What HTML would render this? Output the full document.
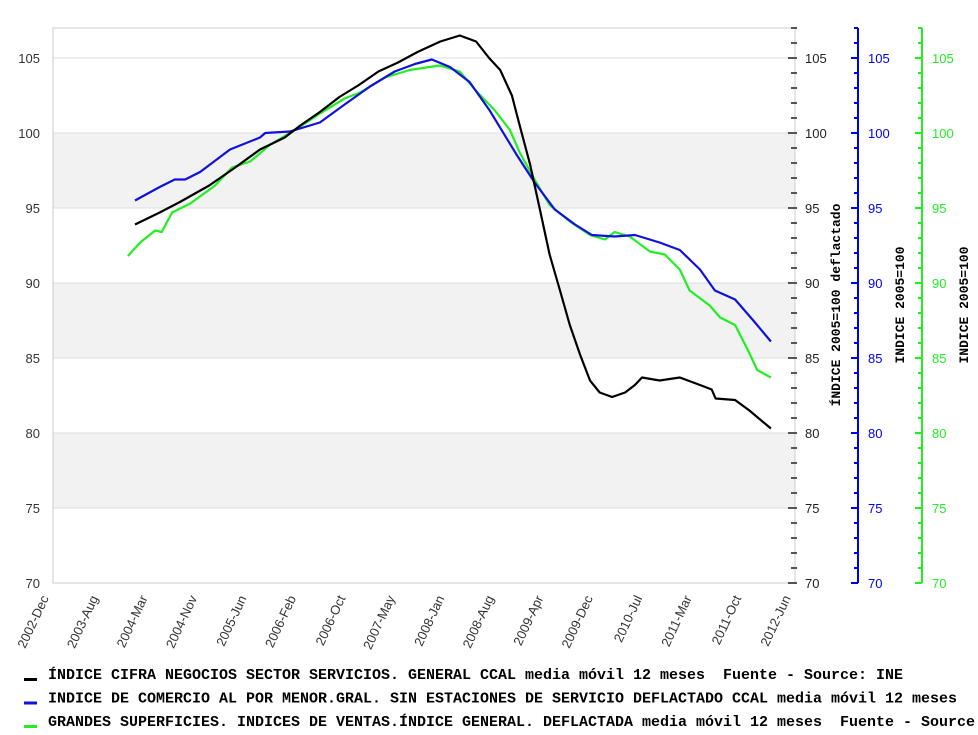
<!DOCTYPE html>
<html><head><meta charset="utf-8"><style>
body{margin:0;background:#fff;}
svg{display:block;font-family:"Liberation Sans",sans-serif;}
.leg{white-space:pre;}
</style></head><body>
<svg id="chart" width="978" height="735" xmlns="http://www.w3.org/2000/svg"></svg>
<script>
const xLabels=["2002-Dec","2003-Aug","2004-Mar","2004-Nov","2005-Jun","2006-Feb","2006-Oct","2007-May","2008-Jan","2008-Aug","2009-Apr","2009-Dec","2010-Jul","2011-Mar","2011-Oct","2012-Jun"];
const yTicks=[70,75,80,85,90,95,100,105];
const blackMonths=[12.6,16.4,19.5,24,28,31.8,35.6,38,41,44,47,50,53,56,59.5,62.5,65,67,68.7,70.5,71.7,73.3,74.8,76.3,77.9,79.4,81,82.5,84,85.9,87.9,89.4,90.5,93.2,96.3,99.4,101.2,101.8,104.8,107,110.3];
const blackValues=[93.9,94.7,95.4,96.5,97.7,98.9,99.7,100.5,101.4,102.4,103.2,104.1,104.7,105.4,106.1,106.5,106.1,105,104.2,102.5,100.5,97.9,94.9,91.9,89.5,87.2,85.2,83.5,82.7,82.4,82.7,83.2,83.7,83.5,83.7,83.2,82.9,82.3,82.2,81.5,80.3];
const blueMonths=[12.6,16.4,18.7,20.3,22.6,27.2,31.8,32.6,36.4,41,44.8,48.7,52.5,55.6,58.2,61,64,67.1,71.3,74,77.1,80.2,82.8,86.3,89.4,93.2,96.3,99.4,101.7,104.8,107.8,110.3];
const blueValues=[95.5,96.4,96.9,96.9,97.4,98.9,99.7,100,100.1,100.7,101.9,103.1,104.1,104.6,104.9,104.4,103.4,101.5,98.5,96.7,94.9,93.9,93.2,93.1,93.2,92.7,92.2,90.9,89.5,88.9,87.4,86.1];
const greenMonths=[11.5,13.4,15.7,16.7,18.3,21.1,24.9,27.5,30.3,33.3,37.2,41,44.8,47.2,51,54.8,59.4,62.5,64.8,67.9,70.2,71.7,74,76.3,79.4,82.5,84.8,86.3,88.6,91.7,94,96.3,97.8,100.9,102.5,104.8,106.8,108.2,110.3];
const greenValues=[91.8,92.7,93.5,93.4,94.7,95.3,96.5,97.7,98.1,99.2,100.2,101.3,102.3,102.7,103.7,104.2,104.5,104.1,102.9,101.5,100.2,98.7,96.9,95.2,94.1,93.2,92.9,93.4,93.1,92.1,91.9,90.9,89.5,88.5,87.7,87.2,85.5,84.2,83.7];

const NS="http://www.w3.org/2000/svg";
const svg=document.getElementById('chart');
const X0=53,X1=795,Y0=583,YT=28,MMAX=114;
const xs=m=>X0+(X1-X0)*m/MMAX;
const ys=v=>Y0-(v-70)*15;
function mk(tag,attrs,parent){const e=document.createElementNS(NS,tag);for(const k in attrs)e.setAttribute(k,attrs[k]);(parent||svg).appendChild(e);return e;}

[[95,100],[85,90],[75,80]].forEach(b=>{
 const r=mk('rect',{x:X0,y:ys(b[1]),width:X1-X0,height:ys(b[0])-ys(b[1]),fill:'#f2f2f2'});
 
 
});
yTicks.forEach(v=>{
 const l=mk('line',{x1:X0,x2:X1,y1:ys(v),y2:ys(v),stroke:'#dddddd','stroke-width':1});
 
 
});
const frame=mk('rect',{x:X0,y:YT,width:X1-X0,height:Y0-YT,fill:'none',stroke:'#cccccc'});



yTicks.forEach(v=>{
 const t=mk('text',{x:40,y:ys(v)+5,'text-anchor':'end','font-size':13,fill:'#333'});
 t.textContent=v;
 
 
});
const axes=[{x:795,c:'#555',lc:'#222',line:false},{x:858,c:'#0000ee',lc:'#0000ee',line:true},{x:922,c:'#22ee22',lc:'#22ee22',line:true}];
axes.forEach((a,i)=>{
 if(a.line){const l=mk('line',{x1:a.x,x2:a.x,y1:YT,y2:Y0,stroke:a.c,'stroke-width':2});
  
  }
 for(let v=70;v<=107;v++){
  const maj=v%5===0;
  const tk=mk('line',{x1:a.x-(maj?7:4),x2:a.x+(i===0?2:0),y1:ys(v),y2:ys(v),stroke:a.c,'stroke-width':2});
  
  
 }
 yTicks.forEach(v=>{
  const t=mk('text',{x:a.x+10,y:ys(v)+5,'font-size':13,fill:a.lc});
  t.textContent=v;
  
  
 });
});
[[840,'ÍNDICE 2005=100 deflactado'],[904,'INDICE 2005=100'],[968,'INDICE 2005=100']].forEach(p=>{
 const t=mk('text',{x:p[0],y:305,'text-anchor':'middle','font-size':13,'font-weight':'bold','font-family':'Liberation Mono, monospace',transform:`rotate(-90 ${p[0]} 305)`});
 t.textContent=p[1];
 
 
});
xLabels.forEach((s,i)=>{
 const x=X0+(X1-X0)*i/(xLabels.length-1);
 const t=mk('text',{x:x-4,y:598,'text-anchor':'end','font-size':13,fill:'#333',transform:`rotate(-65 ${x-4} 598)`});
 t.textContent=s;
 
 
});
function series(ms,vs,col,name){
 const d=ms.map((m,i)=>(i?'L':'M')+xs(m).toFixed(1)+','+ys(vs[i]).toFixed(1)).join('');
 const p=mk('path',{d,fill:'none',stroke:col,'stroke-width':2.2,'stroke-linejoin':'round'});
 
 
}
series(greenMonths,greenValues,'#22ee22','series-grandes-superficies');
series(blueMonths,blueValues,'#1111dd','series-comercio-menor');
series(blackMonths,blackValues,'#000000','series-cifra-negocios');
const leg=[['#000','ÍNDICE CIFRA NEGOCIOS SECTOR SERVICIOS. GENERAL CCAL media móvil 12 meses  Fuente - Source: INE'],
['#1111dd','INDICE DE COMERCIO AL POR MENOR.GRAL. SIN ESTACIONES DE SERVICIO DEFLACTADO CCAL media móvil 12 meses'],
['#22ee22','GRANDES SUPERFICIES. INDICES DE VENTAS.ÍNDICE GENERAL. DEFLACTADA media móvil 12 meses  Fuente - Source: INE']];
leg.forEach((l,i)=>{
 const y=679+i*23.5;
 const g=mk('g',{});
 
 
 mk('rect',{x:24,y:y-1,width:13,height:3,fill:l[0]},g);
 const t=mk('text',{x:48,y:y,'font-size':14.5,'font-weight':'bold','font-family':'Liberation Mono, monospace',fill:'#000','class':'leg','textLength':l[1].length*9.0,'lengthAdjust':'spacingAndGlyphs'},g);
 t.textContent=l[1];
});
</script>
</body></html>
